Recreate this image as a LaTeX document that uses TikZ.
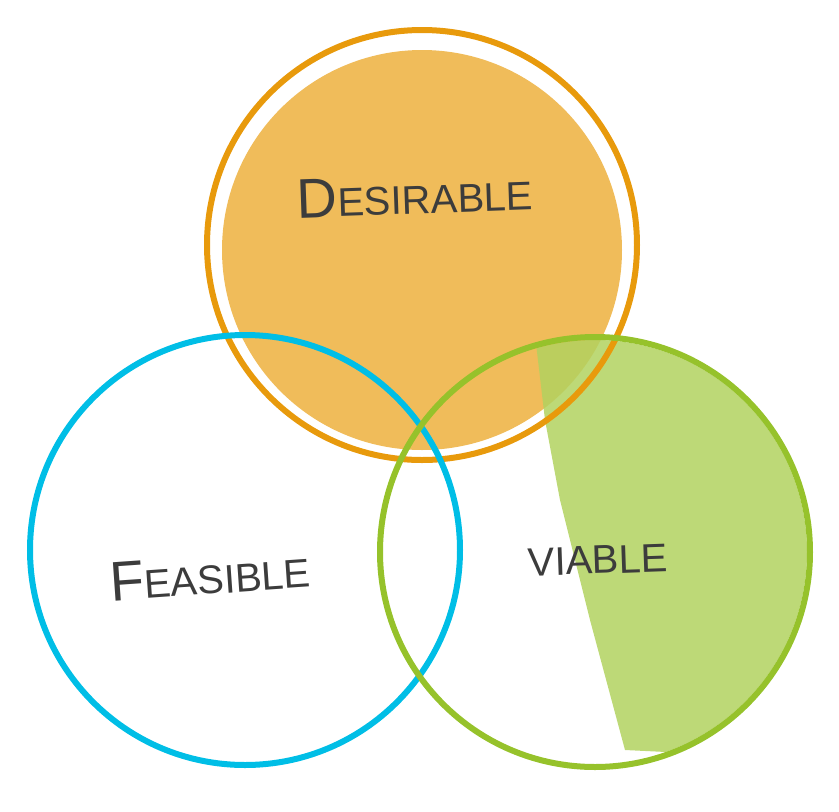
\documentclass[tikz,border=0pt]{standalone}
\usepackage{fontspec}
\setmainfont{Liberation Sans}
\definecolor{desirorange}{RGB}{232, 154, 12}
\definecolor{desirfill}{RGB}{240, 188, 90}
\definecolor{feascyan}{RGB}{0, 190, 230}
\definecolor{viagreen}{RGB}{150, 194, 43}
\definecolor{viafill}{RGB}{178, 210, 95}
\definecolor{inkgray}{RGB}{60, 60, 60}

\begin{document}
\begin{tikzpicture}[
    x=1pt, y=-1pt,
    ring/.style={draw, line width=6pt},
    tag/.style={font=\fontsize{40}{40}\selectfont, text=inkgray, rotate=10}
]
\useasboundingbox (0,0) rectangle (839,812);

% fills
\fill[desirfill] (422,250) circle[radius=200];
\begin{scope}
  \clip (595,552) circle[radius=212];
  \fill[viafill, opacity=0.85] (535,335) -- (545,420) -- (560,500) -- (590,620)
    -- (625,750) -- (830,760) -- (830,330) -- cycle;
\end{scope}

% circles
\draw[ring, draw=desirorange] (422,245) circle[radius=215] node (desir) {};
\draw[ring, draw=feascyan] (245,550) circle[radius=215] node (feas) {};
\draw[ring, draw=viagreen] (595,552) circle[radius=215] node (via) {};

% labels
\node[tag, rotate=-8] (desirlbl) at (415,195) {{\fontsize{56}{56}\selectfont D}ESIRABLE};
\node[tag, rotate=-6] (feaslbl) at (210,575) {{\fontsize{56}{56}\selectfont F}EASIBLE};
\node[tag, rotate=-8] (vialbl) at (598,560) {VIABLE};

\end{tikzpicture}
\end{document}
